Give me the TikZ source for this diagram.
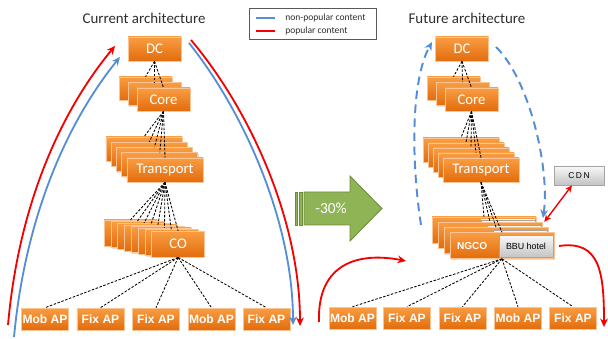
\documentclass[tikz,border=0pt]{standalone}
\usepackage{fontspec}
\setmainfont{Carlito}
\newfontfamily\arialfont{Liberation Sans}
\newfontfamily\arialwide[LetterSpace=18]{Liberation Sans}
\usetikzlibrary{arrows.meta,shadows,calc}

\definecolor{boxtop}{RGB}{249,157,66}
\definecolor{boxbot}{RGB}{226,108,12}
\definecolor{boxline}{RGB}{250,196,148}
\definecolor{greytop}{RGB}{248,248,248}
\definecolor{greybot}{RGB}{195,195,195}
\definecolor{greyline}{RGB}{165,165,165}
\definecolor{cutfill}{RGB}{143,180,86}
\definecolor{cutline}{RGB}{112,138,62}
\definecolor{nonpop}{RGB}{85,142,213}
\definecolor{pop}{RGB}{245,0,0}
\definecolor{titlegrey}{RGB}{45,45,45}

\tikzset{
  box/.style={rectangle, inner sep=0pt, draw=boxline, line width=0.4pt,
    top color=boxtop, bottom color=boxbot, text=white,
    drop shadow={shadow xshift=0.6pt, shadow yshift=-0.8pt, opacity=0.25}},
  netbox/.style={box, minimum width=13.25mm, minimum height=6mm,
    font=\fontsize{10.5}{12}\selectfont},
  trbox/.style={netbox, minimum width=19mm},
  apbox/.style={box, minimum width=11.75mm, minimum height=5.5mm,
    font=\arialfont\bfseries\fontsize{8.6}{10}\selectfont},
  ngcobox/.style={box, text width=22.5mm, inner xsep=1.75mm, align=left,
    minimum height=6.5mm, font=\arialfont\bfseries\fontsize{7.2}{9}\selectfont},
  greybox/.style={rectangle, inner sep=0pt, draw=greyline, line width=0.4pt,
    top color=greytop, bottom color=greybot, text=black},
  fan/.style={black, line width=0.6pt, dash pattern=on 1.8pt off 1.1pt},
  tip/.style={-{Stealth[length=6pt,width=5.5pt]}},
  popular/.style={pop, line width=1.3pt, tip},
  nonpopular/.style={nonpop, line width=1.3pt, tip},
  bypass/.style={nonpop, line width=1.4pt, dash pattern=on 6pt off 4pt, tip},
  cdnlink/.style={pop, line width=1pt, {Stealth[length=5pt,width=4.5pt]}-{Stealth[length=5pt,width=4.5pt]}},
  cutshape/.style={fill=cutfill, draw=cutline, line width=0.6pt},
  title/.style={text=titlegrey, font=\fontsize{10.6}{12}\selectfont},
  keytext/.style={anchor=west, inner sep=0pt, text=titlegrey, font=\fontsize{6.8}{8}\selectfont}
}

\begin{document}
\begin{tikzpicture}[x=0.25mm, y=-0.25mm]
\useasboundingbox (0,0) rectangle (608,339);

% titles and key
\node[title] (titleL) at (144,18) {Current architecture};
\node[title] (titleR) at (467,18) {Future architecture};
\node[draw=black!65, line width=0.5pt, minimum width=31.75mm, minimum height=7.75mm, inner sep=0pt] (key) at (312.5,23.5) {};
\node[keytext] (keyblue) at (285,18) {non-popular content};
\node[keytext] (keyred) at (285,31) {popular content};
\draw ($(keyblue.west)+(-29,0)$) -- ++(19,0) [nonpop, line width=1.2pt];
\draw ($(keyred.west)+(-29,0)$) -- ++(19,0) [pop, line width=1.2pt];

% current architecture
\node[netbox] (dcL) at (154.5,49) {DC};
\foreach \k in {0,...,2}
  \node[netbox, minimum height=5.75mm] (coreL-\k) at (145.5+9*\k,88.5+5.5*\k) {\ifnum\k=2 Core\fi};
\foreach \k in {0,...,4}
  \node[trbox] (trL-\k) at (144+5.25*\k,149+5.25*\k) {\ifnum\k=4 Transport\fi};
\foreach \k in {0,...,7}
  \node[netbox, minimum height=6.5mm] (coL-\k) at (130.5+6.8*\k,233+1.6*\k) {\ifnum\k=7 CO\fi};
\foreach \i/\t/\x in {0/Mob AP/45, 1/Fix AP/100.5, 2/Fix AP/156, 3/Mob AP/211.5, 4/Fix AP/266.5}
  \node[apbox] (apL-\i) at (\x,319) {\t};

\foreach \k in {0,...,2} \draw (dcL.south) -- (coreL-\k.north) [fan];
\foreach \k in {0,...,4} \draw (coreL-2.south) -- (trL-\k.north) [fan];
\foreach \k in {0,...,7} \draw (trL-4.south) -- (coL-\k.north) [fan];
\foreach \i in {0,...,4} \draw (coL-7.south) -- (apL-\i.north) [fan];

% future architecture
\node[netbox] (dcR) at (462,49) {DC};
\foreach \k in {0,...,2}
  \node[netbox, minimum height=5.75mm] (coreR-\k) at (453.5+9*\k,88.5+5.5*\k) {\ifnum\k=2 Core\fi};
\foreach \k in {0,...,4}
  \node[trbox] (trR-\k) at (461+5*\k,150+5*\k) {\ifnum\k=4 Transport\fi};
\foreach \k in {0,...,3} {
  \node[ngcobox] (ngco-\k) at (484+6*\k,230+5.2*\k) {\ifnum\k=3 NGCO\fi};
  \node[greybox, minimum width=13.5mm, minimum height=5.5mm,
    font=\arialfont\fontsize{6.3}{8}\selectfont] (bbu-\k) at ($(ngco-\k)+(24,1)$) {\ifnum\k=3 BBU hotel\fi};
}
\node[greybox, minimum width=12.5mm, minimum height=4.75mm,
  font=\arialwide\fontsize{6}{8}\selectfont] (cdn) at (579,175.5) {CDN};
\foreach \i/\t/\x in {0/Mob AP/352.5, 1/Fix AP/407, 2/Fix AP/462.5, 3/Mob AP/518, 4/Fix AP/573}
  \node[apbox] (apR-\i) at (\x,318) {\t};

\foreach \k in {0,...,2} \draw (dcR.south) -- (coreR-\k.north) [fan];
\foreach \k in {0,...,4} \draw (coreR-2.south) -- (trR-\k.north) [fan];
\foreach \k in {0,...,3} \draw (trR-4.south) -- (ngco-\k.north) [fan];
\foreach \i in {0,...,4} \draw (ngco-3.south) -- (apR-\i.north) [fan];

% reduction arrow
\draw (304,192) -- (350,192) -- (350,176) -- (382,208.5) -- (350,241) -- (350,225) -- (304,225) -- cycle [cutshape];
\draw (295,192) rectangle (297.5,225) [cutshape];
\draw (299.5,192) rectangle (302,225) [cutshape];
\node[text=white, font=\fontsize{11}{13}\selectfont] (cut) at (331,208.5) {-30\%};

% traffic paths, current
\coordinate (popL-in) at (8,325);
\coordinate (popL-out) at (115,46);
\coordinate (nonL-in) at (14,337);
\coordinate (nonL-out) at (120,57);
\coordinate (nonR-in) at (189,43);
\coordinate (nonR-out) at (293,325);
\coordinate (popR-in) at (191,40);
\coordinate (popR-out) at (300,326);
\draw[popular] (popL-in) .. controls (20,190) and (70,100) .. (popL-out);
\draw[nonpopular] (nonL-in) .. controls (27,200) and (77,110) .. (nonL-out);
\draw[nonpopular] (nonR-in) .. controls (244,112) and (293,222) .. (nonR-out);
\draw[popular] (popR-in) .. controls (250,110) and (300,220) .. (popR-out);

% traffic paths, future
\coordinate (upR-in) at (421,225);
\coordinate (upR-out) at (432,42);
\coordinate (downR-in) at (496,47);
\coordinate (downR-out) at (543,218);
\coordinate (localL-in) at (319,322);
\coordinate (localL-out) at (406,261);
\coordinate (localR-in) at (559,246);
\coordinate (localR-out) at (604,327);
\draw[bypass] (upR-in) .. controls (411,160) and (411,80) .. (upR-out);
\draw[bypass] (downR-in) .. controls (530,80) and (550,170) .. (downR-out);
\draw[popular] (localL-in) .. controls (317,262) and (360,252) .. (localL-out);
\draw[popular] (localR-in) .. controls (600,240) and (604,272) .. (localR-out);
\draw[cdnlink] ([xshift=-1.75mm]cdn.south) -- ([xshift=0.5mm]ngco-1.north east);
\end{tikzpicture}
\end{document}
